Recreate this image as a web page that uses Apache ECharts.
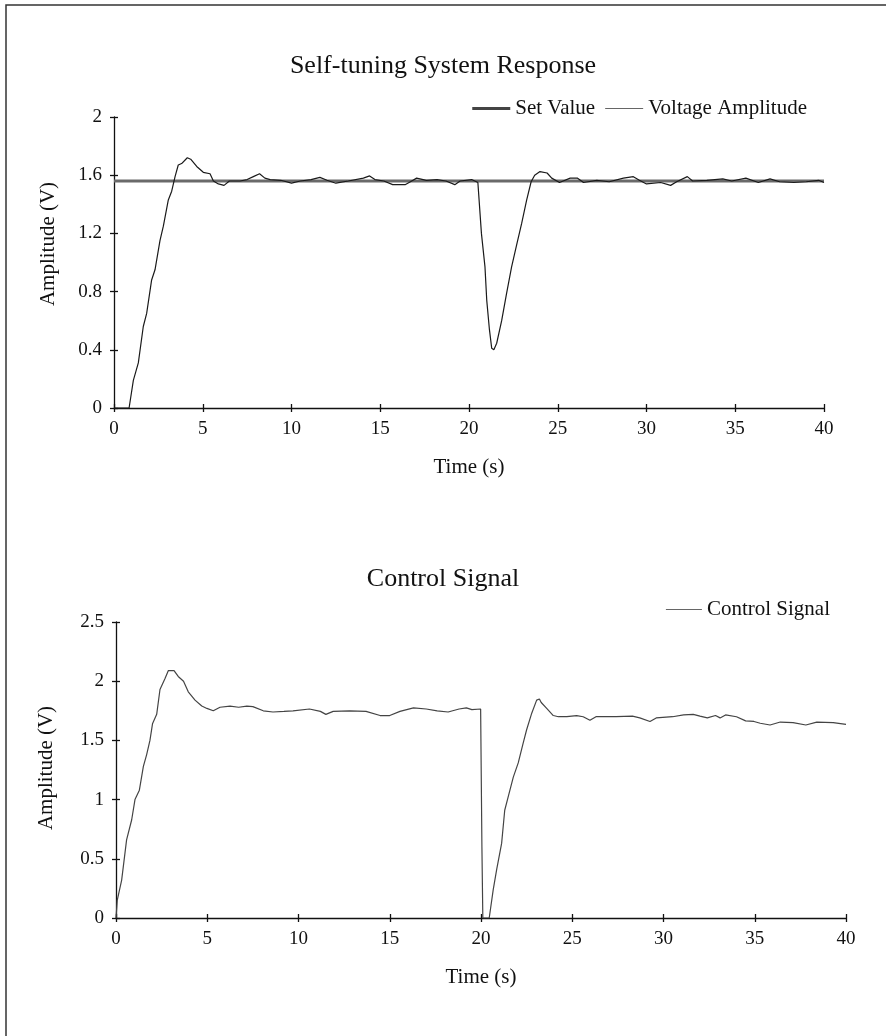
<!DOCTYPE html>
<html>
<head>
<meta charset="utf-8">
<script src="https://cdn.jsdelivr.net/npm/echarts@6/dist/echarts.min.js"></script>
<style>
html,body{margin:0;padding:0;background:#fff;}
#chart{width:886px;height:1036px;}
</style>
</head>
<body>
<div id="chart"></div>
<script>
// ---- Data ----
const titleTop = 'Self-tuning System Response';
const titleBottom = 'Control Signal';
const setValueLevel = 1.56;
const setTime = [0, 40];

const respTime = [0,0.85,1.09,1.37,1.65,1.84,2.12,2.31,2.59,2.78,3.06,3.25,3.44,3.62,3.81,4.13,4.32,4.66,5.03,5.41,5.6,5.88,6.2,6.5,7.1,7.5,7.85,8.2,8.5,8.8,9.4,10.0,10.5,11.1,11.6,12.0,12.5,13.2,14.05,14.4,14.7,15.2,15.7,16.4,16.7,17.05,17.6,18.2,18.7,19.2,19.5,20.15,20.5,20.7,20.9,21.0,21.15,21.28,21.4,21.56,21.84,22.12,22.4,22.7,22.97,23.25,23.5,23.7,24.0,24.4,24.66,25.1,25.7,26.1,26.45,27.2,27.9,28.7,29.26,29.6,30.0,30.8,31.36,31.7,32.3,32.6,33.4,34.3,34.8,35.6,36.3,36.96,37.5,38.3,39.0,39.7,40.0];
const respValue = [0,0,0.19,0.31,0.56,0.65,0.88,0.95,1.15,1.25,1.43,1.49,1.59,1.67,1.68,1.72,1.71,1.66,1.62,1.61,1.56,1.54,1.53,1.56,1.56,1.57,1.59,1.61,1.58,1.57,1.565,1.545,1.56,1.57,1.585,1.565,1.545,1.56,1.58,1.595,1.57,1.56,1.535,1.535,1.555,1.58,1.565,1.57,1.56,1.535,1.56,1.57,1.55,1.2,0.97,0.74,0.54,0.41,0.40,0.445,0.60,0.79,0.97,1.13,1.27,1.43,1.555,1.60,1.625,1.615,1.58,1.55,1.58,1.58,1.55,1.565,1.555,1.58,1.59,1.565,1.54,1.55,1.53,1.555,1.59,1.56,1.565,1.575,1.56,1.58,1.55,1.575,1.555,1.55,1.555,1.565,1.55];

const ctrlTime = [0,0.07,0.31,0.58,0.86,1.04,1.28,1.5,1.68,1.86,2.0,2.23,2.41,2.68,2.87,3.18,3.41,3.7,3.96,4.33,4.7,4.98,5.33,5.7,6.25,6.72,7.17,7.5,8.07,8.6,9.2,9.7,10.6,11.2,11.5,11.9,12.8,13.7,14.47,15.0,15.56,16.3,17.0,17.6,18.2,18.8,19.2,19.5,19.98,20.05,20.1,20.45,20.67,20.86,21.13,21.3,21.5,21.77,22.04,22.3,22.5,22.78,23.05,23.2,23.3,23.6,23.96,24.24,24.7,25.24,25.6,25.97,26.3,27.07,27.4,28.3,28.7,29.26,29.6,30.5,31.1,31.63,32.0,32.4,32.85,33.1,33.4,34.0,34.5,34.96,35.3,35.84,36.4,37.1,37.8,38.4,39.3,40.0];
const ctrlValue = [0,0.15,0.32,0.66,0.83,1.0,1.08,1.28,1.38,1.50,1.64,1.72,1.93,2.02,2.09,2.09,2.04,2.0,1.91,1.84,1.79,1.77,1.75,1.78,1.79,1.78,1.79,1.785,1.75,1.74,1.745,1.75,1.765,1.745,1.72,1.745,1.75,1.745,1.71,1.71,1.745,1.775,1.765,1.75,1.74,1.765,1.775,1.76,1.765,0.6,0,0,0.24,0.41,0.63,0.91,1.03,1.19,1.31,1.47,1.59,1.73,1.84,1.85,1.82,1.77,1.71,1.70,1.70,1.71,1.70,1.67,1.70,1.70,1.70,1.705,1.69,1.66,1.69,1.70,1.715,1.72,1.705,1.69,1.71,1.69,1.715,1.70,1.665,1.66,1.645,1.63,1.655,1.65,1.63,1.655,1.65,1.635];

const xTicks = [0, 40, 5];         // min, max, interval
const yTopTicks = [0, 2, 0.4];
const yBottomTicks = [0, 2.5, 0.5];

// ---- Build chart ----
const zip = (a, b) => a.map((v, i) => [v, b[i]]);
const FONT = '"Liberation Serif", "Times New Roman", serif';
const INK = '#111';

const grids = [
  {left: 114, right: 62, top: 117, height: 291},
  {left: 116, right: 40, top: 622, height: 296}
];

function xAx(gi, inside) {
  return {
    type: 'value', gridIndex: gi, position: 'bottom', min: xTicks[0], max: xTicks[1], interval: xTicks[2],
    name: inside ? '' : 'Time (s)', nameLocation: 'middle', nameGap: 49,
    nameTextStyle: {fontFamily: FONT, fontSize: 21, color: INK},
    axisLine: {show: !inside, onZero: false, lineStyle: {color: INK, width: 1.3}},
    axisTick: {show: true, inside: inside, length: 4, lineStyle: {color: INK, width: 1.3}},
    axisLabel: {show: !inside, margin: 12, fontFamily: FONT, fontSize: 19, color: INK},
    splitLine: {show: false}
  };
}
function yAx(gi, t, inside) {
  return {
    type: 'value', gridIndex: gi, position: 'left', min: t[0], max: t[1], interval: t[2],
    axisLine: {show: !inside, onZero: false, lineStyle: {color: INK, width: 1.3}},
    axisTick: {show: true, inside: inside, length: 4, lineStyle: {color: INK, width: 1.3}},
    axisLabel: {show: !inside, margin: 12, fontFamily: FONT, fontSize: 19, color: INK},
    splitLine: {show: false}
  };
}

const option = {
  backgroundColor: '#fff',
  animation: false,
  textStyle: {fontFamily: FONT},
  title: [
    {text: titleTop, left: 'center', top: 48, textStyle: {fontFamily: FONT, fontSize: 26, fontWeight: 'normal', color: INK}},
    {text: titleBottom, left: 'center', top: 561, textStyle: {fontFamily: FONT, fontSize: 26, fontWeight: 'normal', color: INK}}
  ],
  legend: [
    {data: [
       {name: 'Set Value', icon: 'path://M0 0H40V3H0Z', itemStyle: {color: '#444'}},
       {name: 'Voltage Amplitude', icon: 'path://M0 0H40V1.2H0Z', itemStyle: {color: '#666'}}
     ],
     right: 74, top: 93, itemWidth: 38, itemHeight: 14, itemGap: 10,
     textStyle: {fontFamily: FONT, fontSize: 21, color: INK}},
    {data: [{name: 'Control Signal', icon: 'path://M0 0H40V1.2H0Z', itemStyle: {color: '#666'}}],
     right: 51, top: 594, itemWidth: 36, itemHeight: 14,
     textStyle: {fontFamily: FONT, fontSize: 21, color: INK}}
  ],
  grid: grids,
  xAxis: [xAx(0, false), xAx(1, false), xAx(0, true), xAx(1, true)],
  yAxis: [yAx(0, yTopTicks, false), yAx(1, yBottomTicks, false), yAx(0, yTopTicks, true), yAx(1, yBottomTicks, true)],
  series: [
    {name: 'Set Value', type: 'line', xAxisIndex: 0, yAxisIndex: 0, showSymbol: false, symbol: 'none',
     data: setTime.map(t => [t, setValueLevel]), lineStyle: {color: '#6a6a6a', width: 3}, itemStyle: {color: '#444'}, z: 2},
    {name: 'Voltage Amplitude', type: 'line', xAxisIndex: 0, yAxisIndex: 0, showSymbol: false, symbol: 'none',
     data: zip(respTime, respValue), lineStyle: {color: '#1a1a1a', width: 1.2}, itemStyle: {color: '#666'}, z: 3},
    {name: 'Control Signal', type: 'line', xAxisIndex: 1, yAxisIndex: 1, showSymbol: false, symbol: 'none',
     data: zip(ctrlTime, ctrlValue), lineStyle: {color: '#444', width: 1.2}, itemStyle: {color: '#666'}, z: 3}
  ],
  graphic: [
    {type: 'rect', shape: {x: 6, y: 5, width: 1000, height: 1100}, style: {fill: 'none', stroke: '#333', lineWidth: 1.5}, silent: true},
    {type: 'text', x: 48, y: 244, rotation: Math.PI / 2, style: {text: 'Amplitude (V)', font: '21px ' + FONT, fill: INK, align: 'center', verticalAlign: 'middle'}},
    {type: 'text', x: 46, y: 768, rotation: Math.PI / 2, style: {text: 'Amplitude (V)', font: '21px ' + FONT, fill: INK, align: 'center', verticalAlign: 'middle'}}
  ]
};

const chart = echarts.init(document.getElementById('chart'), null, {renderer: 'canvas'});
chart.setOption(option);
</script>
</body>
</html>
